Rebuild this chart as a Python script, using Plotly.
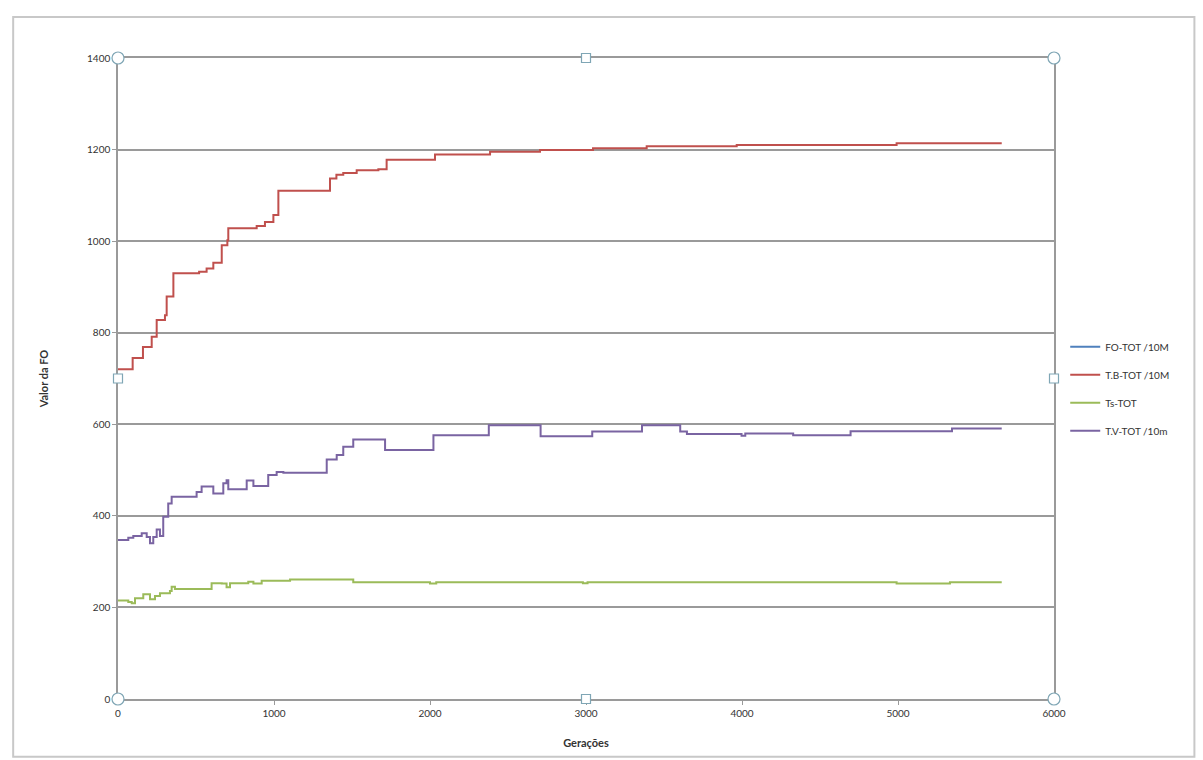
import plotly.graph_objects as go

# ---------------- data ----------------
series_names = ["FO-TOT /10M", "T.B-TOT /10M", "Ts-TOT", "T.V-TOT /10m"]
series_colors = ["#4F81BD", "#C0504D", "#9BBB59", "#7A64A2"]

# FO-TOT /10M is not visible in the picture (hidden), kept empty
fo_gen = []
fo_val = []

tb_gen = [0, 94, 160, 216, 248, 301, 312, 355, 520, 568, 611, 665, 701, 707, 889, 942, 996, 1028,
          1359, 1400, 1444, 1530, 1669, 1722, 2032, 2385, 2705, 3045, 3389, 3966, 4991, 5665]
tb_val = [720, 745, 769, 791, 828, 838, 879, 930, 933, 940, 953, 991, 1002, 1028, 1033, 1042, 1057, 1110,
          1137, 1145, 1149, 1155, 1157, 1178, 1189, 1195, 1199, 1203, 1207, 1210, 1214, 1214]

ts_gen = [0, 66, 88, 109, 162, 205, 237, 269, 333, 344, 365, 600, 665, 696, 718, 835, 868, 921,
          1103, 1508, 2000, 2040, 2980, 3010, 4991, 5333, 5665]
ts_val = [215, 212, 209, 220, 229, 218, 225, 231, 236, 245, 240, 253, 252, 244, 253, 256, 252, 258,
          261, 255, 252, 255, 253, 255, 252, 255, 255]

tv_gen = [0, 66, 98, 152, 184, 205, 226, 248, 269, 290, 322, 344, 504, 536, 611, 675, 696, 707,
          825, 868, 963, 1017, 1060, 1338, 1402, 1444, 1508, 1712, 2022, 2377, 2709, 3040, 3359,
          3604, 3647, 3997, 4021, 4328, 4696, 5346, 5665]
tv_val = [347, 352, 356, 362, 354, 340, 354, 370, 356, 398, 427, 442, 452, 464, 449, 471, 478, 458,
          477, 465, 489, 496, 494, 523, 533, 551, 567, 544, 576, 598, 574, 584, 598,
          584, 579, 575, 580, 576, 585, 591, 591]

x_ticks = [0, 1000, 2000, 3000, 4000, 5000, 6000]
y_ticks = [0, 200, 400, 600, 800, 1000, 1200, 1400]
x_title = "Gerações"
y_title = "Valor da FO"

# ---------------- figure ----------------
fig = go.Figure()
all_gen = [fo_gen, tb_gen, ts_gen, tv_gen]
all_val = [fo_val, tb_val, ts_val, tv_val]
for name, col, g, v in zip(series_names, series_colors, all_gen, all_val):
    fig.add_trace(go.Scatter(
        x=g if g else [None], y=v if v else [None], name=name, mode="lines",
        line=dict(color=col, width=2, shape="hv"), legendgroup=name,
    ))

axis_gray = "#9a9a9a"
fig.update_layout(
    width=1203, height=760,
    margin=dict(l=118, r=149, t=58, b=61),
    paper_bgcolor="white", plot_bgcolor="white",
    font=dict(family="Lato, Liberation Sans, sans-serif", size=10, color="#333333"),
    showlegend=True,
    legend=dict(x=1.012, y=0.572, xanchor="left", yanchor="top", bgcolor="rgba(0,0,0,0)",
                font=dict(size=10, color="#333333"), tracegroupgap=9, itemwidth=30),
    xaxis=dict(range=[0, 6000], tickvals=x_ticks, showgrid=False, zeroline=False,
               showline=True, linecolor=axis_gray, linewidth=1.5, mirror=True,
               ticks="outside", ticklen=4, tickcolor=axis_gray,
               title=dict(text="<b>" + x_title + "</b>", font=dict(size=11, color="#333333"), standoff=22)),
    yaxis=dict(range=[0, 1400], tickvals=y_ticks, showgrid=True, gridcolor=axis_gray, gridwidth=1.5,
               zeroline=False, showline=True, linecolor=axis_gray, linewidth=1.5, mirror=True,
               ticks="outside", ticklen=4, tickcolor=axis_gray,
               title=dict(text="<b>" + y_title + "</b>", font=dict(size=11, color="#333333"), standoff=36)),
)

# chart-area frame (decoration)
fig.add_shape(type="rect", xref="paper", yref="paper", x0=-0.112, x1=1.15, y0=-0.09, y1=1.064,
              line=dict(color="#c8c8c8", width=2), fillcolor="rgba(0,0,0,0)", layer="below")

# selection handles (decoration), paper-anchored so they are not clipped
handle_col = "#7fa6b5"
for hx, hy, kind in [(0, 0, "circle"), (0, 1, "circle"), (1, 0, "circle"), (1, 1, "circle"),
                     (0.5, 0, "rect"), (0.5, 1, "rect"), (0, 0.5, "rect"), (1, 0.5, "rect")]:
    r = 6 if kind == "circle" else 4.5
    fig.add_shape(type=kind, xref="paper", yref="paper", xsizemode="pixel", ysizemode="pixel",
                  xanchor=hx, yanchor=hy, x0=-r, x1=r, y0=-r, y1=r,
                  line=dict(color=handle_col, width=1.2), fillcolor="white", layer="above")

fig.write_html("out.html")
